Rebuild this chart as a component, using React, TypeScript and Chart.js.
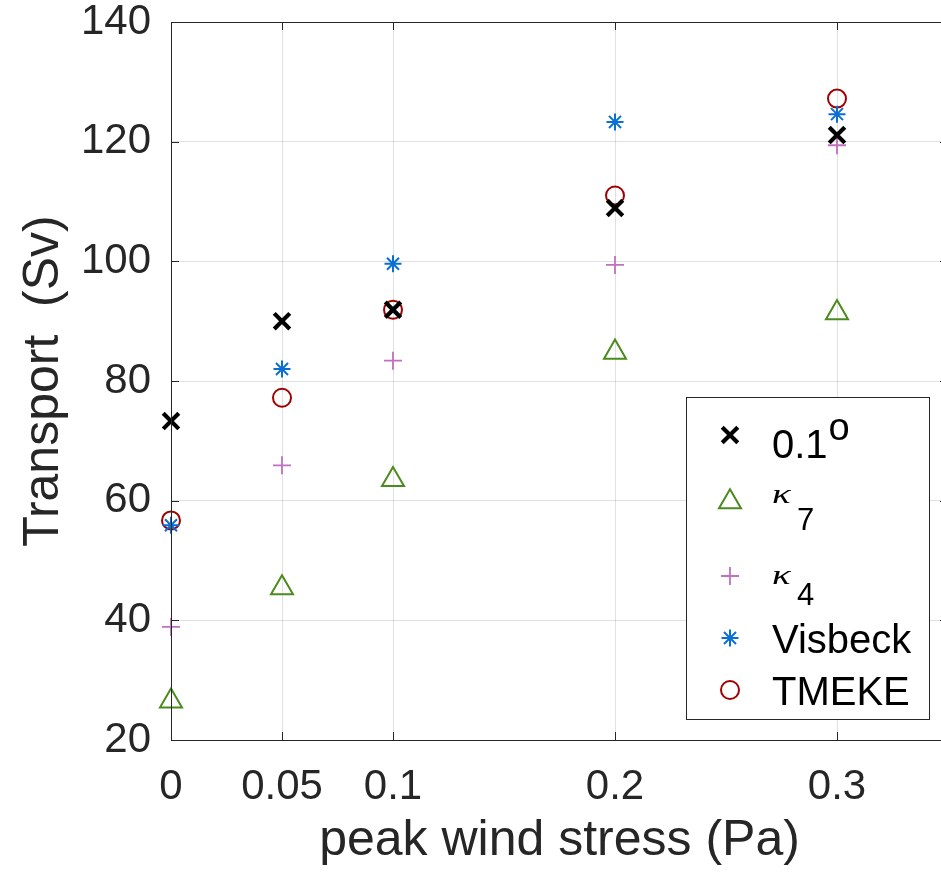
import React, { useEffect, useRef } from "react";
import { Chart, registerables } from "chart.js";
import { drawPoint } from "chart.js/helpers";

Chart.register(...registerables);

const X_VALUES = [0, 0.05, 0.1, 0.2, 0.3];
const X_TICKS = [0, 0.05, 0.1, 0.2, 0.3];
const X_TICK_LABELS = ["0", "0.05", "0.1", "0.2", "0.3"];
const Y_TICKS = [20, 40, 60, 80, 100, 120, 140];

const HIRES = [73.3, 90.0, 91.9, 108.9, 121.1];
const KAPPA7 = [26.5, 45.4, 63.5, 84.8, 91.4];
const KAPPA4 = [38.9, 65.9, 83.4, 99.4, 119.4];
const VISBECK = [55.9, 82.0, 99.6, 123.3, 124.6];
const TMEKE = [56.7, 77.2, 91.9, 111.0, 127.2];

const FONT = '"Liberation Sans", Arial, Helvetica, sans-serif';
const AXIS_COLOR = "#262626";

const STYLES = [
  { label: "0.1", pointStyle: "crossRot", radius: 11, borderWidth: 4.2, color: "#000000" },
  { label: "κ7", pointStyle: "triangle", radius: 12.7, borderWidth: 2, color: "#4b8a1d" },
  { label: "κ4", pointStyle: "cross", radius: 9, borderWidth: 1.8, color: "#c070c0" },
  { label: "Visbeck", pointStyle: "star", radius: 8.5, borderWidth: 2, color: "#0a6fd4" },
  { label: "TMEKE", pointStyle: "circle", radius: 9, borderWidth: 2, color: "#a00000" },
];
const SERIES = [HIRES, KAPPA7, KAPPA4, VISBECK, TMEKE];

const frameTicksPlugin = {
  id: "frameTicks",
  afterDatasetsDraw(chart: any) {
    const { ctx, chartArea } = chart;
    const { left, right, top, bottom } = chartArea;
    const xs = chart.scales.x;
    const ys = chart.scales.y;
    ctx.save();
    ctx.strokeStyle = AXIS_COLOR;
    ctx.lineWidth = 1;
    ctx.strokeRect(Math.round(left) + 0.5, Math.round(top) + 0.5, Math.round(right - left), Math.round(bottom - top));
    const tl = 8;
    ctx.beginPath();
    X_TICKS.forEach((v) => {
      const px = Math.round(xs.getPixelForValue(v)) + 0.5;
      ctx.moveTo(px, bottom);
      ctx.lineTo(px, bottom - tl);
      ctx.moveTo(px, top);
      ctx.lineTo(px, top + tl);
    });
    Y_TICKS.forEach((v) => {
      const py = Math.round(ys.getPixelForValue(v)) + 0.5;
      ctx.moveTo(left, py);
      ctx.lineTo(left + tl, py);
      ctx.moveTo(right, py);
      ctx.lineTo(right - tl, py);
    });
    ctx.stroke();
    ctx.restore();
  },
};

const legendPlugin = {
  id: "customLegend",
  afterDraw(chart: any) {
    const { ctx } = chart;
    ctx.save();
    const bx = 686, by = 397, bw = 243, bh = 322;
    ctx.fillStyle = "#ffffff";
    ctx.fillRect(bx, by, bw, bh);
    ctx.strokeStyle = AXIS_COLOR;
    ctx.lineWidth = 1;
    ctx.strokeRect(bx + 0.5, by + 0.5, bw, bh);

    const markerX = 730;
    const markerY = [435, 502, 576, 638, 690];
    STYLES.forEach((s, i) => {
      ctx.strokeStyle = s.color;
      ctx.fillStyle = "rgba(0,0,0,0)";
      ctx.lineWidth = s.borderWidth;
      drawPoint(ctx, { pointStyle: s.pointStyle, radius: s.radius, rotation: 0, borderWidth: s.borderWidth }, markerX, markerY[i]);
    });

    const tx = 772;
    ctx.fillStyle = "#000000";
    ctx.textAlign = "left";
    ctx.textBaseline = "alphabetic";
    ctx.font = `40px ${FONT}`;
    ctx.fillText("0.1", tx, 458);
    const w01 = ctx.measureText("0.1").width;
    ctx.font = `38px ${FONT}`;
    ctx.fillText("o", tx + w01 + 1, 440);
    const drawKappa = (baseK: number, sub: string, baseSub: number) => {
      ctx.save();
      ctx.translate(tx, baseK);
      ctx.scale(1.3, 0.9);
      ctx.font = `italic 30px "Liberation Serif", "DejaVu Serif", serif`;
      ctx.fillText("κ", 0, 0);
      ctx.restore();
      ctx.font = `31px ${FONT}`;
      ctx.fillText(sub, 797, baseSub);
    };
    drawKappa(503, "7", 530);
    drawKappa(584, "4", 605);
    ctx.font = `40px ${FONT}`;
    ctx.fillText("Visbeck", tx, 653);
    ctx.fillText("TMEKE", tx, 705);
    ctx.restore();
  },
};

export default function App() {
  const ref = useRef<HTMLCanvasElement | null>(null);
  useEffect(() => {
    if (!ref.current) return;
    const datasets = STYLES.map((s, i) => ({
      label: s.label,
      data: X_VALUES.map((x, j) => ({ x, y: SERIES[i][j] })),
      pointStyle: s.pointStyle,
      pointRadius: s.radius,
      pointBorderWidth: s.borderWidth,
      borderColor: s.color,
      pointBorderColor: s.color,
      pointBackgroundColor: "rgba(0,0,0,0)",
      backgroundColor: "rgba(0,0,0,0)",
      showLine: false,
      clip: false,
    }));
    const zeroPad = (s: any) => {
      s.paddingTop = 0;
      s.paddingBottom = 0;
      s.paddingLeft = 0;
      s.paddingRight = 0;
    };
    const chart = new Chart(ref.current, {
      type: "scatter",
      data: { datasets: datasets as any },
      options: {
        responsive: false,
        animation: false,
        devicePixelRatio: 1,
        layout: { autoPadding: false, padding: { left: 0, top: 22, right: 12, bottom: 0 } },
        plugins: {
          legend: { display: false },
          tooltip: { enabled: false },
          title: { display: false },
        },
        scales: {
          x: {
            type: "linear",
            min: 0,
            max: 0.35,
            afterBuildTicks: (s: any) => {
              s.ticks = X_TICKS.map((v) => ({ value: v }));
            },
            afterFit: (s: any) => {
              s.height = 132;
              zeroPad(s);
            },
            ticks: {
              color: AXIS_COLOR,
              padding: 22,
              font: { family: FONT, size: 42 },
              callback: (v: any) => {
                const idx = X_TICKS.indexOf(Number(v));
                return idx >= 0 ? X_TICK_LABELS[idx] : "";
              },
            },
            grid: { color: "rgba(0,0,0,0.12)", drawTicks: false, lineWidth: 1 },
            border: { display: true, color: AXIS_COLOR, width: 1 },
            title: {
              display: true,
              text: "peak wind stress (Pa)",
              color: AXIS_COLOR,
              font: { family: FONT, size: 50 },
              padding: { top: 0, bottom: 1 },
            },
          },
          y: {
            type: "linear",
            min: 20,
            max: 140,
            afterBuildTicks: (s: any) => {
              s.ticks = Y_TICKS.map((v) => ({ value: v }));
            },
            afterFit: (s: any) => {
              s.width = 171;
              zeroPad(s);
            },
            ticks: {
              color: AXIS_COLOR,
              padding: 20,
              font: { family: FONT, size: 42 },
            },
            grid: { color: "rgba(0,0,0,0.12)", drawTicks: false, lineWidth: 1 },
            border: { display: true, color: AXIS_COLOR, width: 1 },
            title: {
              display: true,
              text: "Transport  (Sv)",
              color: AXIS_COLOR,
              font: { family: FONT, size: 50 },
              padding: { top: 14, bottom: 0 },
            },
          },
        },
      },
      plugins: [frameTicksPlugin, legendPlugin],
    });
    return () => chart.destroy();
  }, []);
  return (
    <div
      style={{
        position: "fixed",
        left: 0,
        top: 0,
        width: 941,
        height: 872,
        overflow: "hidden",
        background: "#ffffff",
      }}
    >
      <canvas ref={ref} width={960} height={872} style={{ display: "block" }} />
    </div>
  );
}
